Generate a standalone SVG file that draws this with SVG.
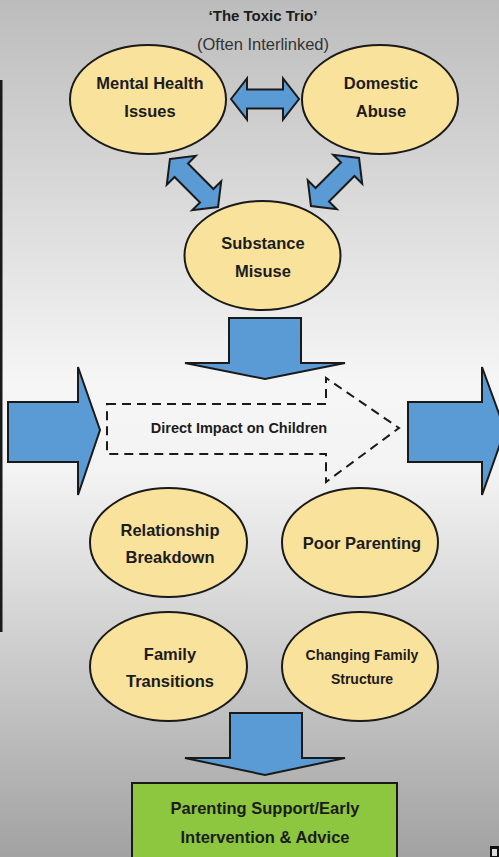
<svg xmlns="http://www.w3.org/2000/svg" width="499" height="857" viewBox="0 0 499 857">
<defs>
<linearGradient id="bg" x1="0" y1="0" x2="0" y2="1">
<stop offset="0" stop-color="#bcbcbc"/>
<stop offset="0.45" stop-color="#f6f6f6"/>
<stop offset="0.55" stop-color="#f3f3f3"/>
<stop offset="1" stop-color="#a2a2a2"/>
</linearGradient>
<path id="dbl" d="M-34 0 L-18 -20.5 L-18 -9.5 L18 -9.5 L18 -20.5 L34 0 L18 20.5 L18 9.5 L-18 9.5 L-18 20.5 Z"/>
</defs>
<style>
.node ellipse{fill:#f9e29c;stroke:#1a1a1a;stroke-width:2}
.arrow{fill:#5b9bd5;stroke:#1a1a1a;stroke-width:2;stroke-linejoin:miter}
text{font-family:"Liberation Sans",Arial,sans-serif;font-weight:bold;fill:#1c1c1c;text-anchor:middle}
.t{font-size:16.5px}
.s{font-size:14px}
.dash{fill:none;stroke:#1a1a1a;stroke-width:2;stroke-dasharray:9 6}
</style>
<rect x="0" y="0" width="499" height="857" fill="url(#bg)"/>
<rect x="0" y="80" width="2.5" height="552" fill="#1a1a1a"/>

<g id="title">
<text x="263" y="21" style="font-size:15px">‘The Toxic Trio’</text>
<text x="263" y="50" style="font-size:16.5px;font-weight:normal;fill:#333">(Often Interlinked)</text>
</g>

<g id="connectors">
<use href="#dbl" class="arrow" transform="translate(265,99)"/>
<use href="#dbl" class="arrow" transform="translate(194,183) rotate(45)"/>
<use href="#dbl" class="arrow" transform="translate(335,182) rotate(-45)"/>
<path class="arrow" d="M229 318 L301 318 L301 363 L345 363 L265 379 L185 363 L229 363 Z"/>
<path class="arrow" d="M8 402 L78 402 L78 367 L100 430 L78 495 L78 462 L8 462 Z"/>
<path class="arrow" d="M408 402 L482 402 L482 367 L505 430 L482 495 L482 462 L408 462 Z"/>
<path class="arrow" d="M230 713 L302 713 L302 758 L345 758 L265 775 L185 758 L230 758 Z"/>
</g>

<g id="mental-health" class="node">
<ellipse cx="148" cy="99.5" rx="78" ry="54.5"/>
<text class="t" x="150" y="89">Mental Health</text>
<text class="t" x="150" y="117">Issues</text>
</g>
<g id="domestic-abuse" class="node">
<ellipse cx="380" cy="99.5" rx="78" ry="54.5"/>
<text class="t" x="381" y="89">Domestic</text>
<text class="t" x="381" y="117">Abuse</text>
</g>
<g id="substance-misuse" class="node">
<ellipse cx="262.5" cy="255.5" rx="78" ry="54.5"/>
<text class="t" x="263" y="249">Substance</text>
<text class="t" x="263" y="277">Misuse</text>
</g>

<g id="direct-impact">
<path class="dash" d="M107 404 L326 404 L326 378 L399 428 L326 482 L326 454 L107 454 Z"/>
<text x="239" y="433" style="font-size:14.5px">Direct Impact on Children</text>
</g>

<g id="relationship-breakdown" class="node">
<ellipse cx="168.5" cy="542.5" rx="78.5" ry="54.5"/>
<text class="t" x="170" y="536">Relationship</text>
<text class="t" x="170" y="563">Breakdown</text>
</g>
<g id="poor-parenting" class="node">
<ellipse cx="360" cy="542.5" rx="78" ry="54.5"/>
<text class="t" x="362" y="549">Poor Parenting</text>
</g>
<g id="family-transitions" class="node">
<ellipse cx="168.5" cy="666.5" rx="78.5" ry="54.5"/>
<text class="t" x="170" y="660">Family</text>
<text class="t" x="170" y="687">Transitions</text>
</g>
<g id="changing-family" class="node">
<ellipse cx="360" cy="666.5" rx="78" ry="54.5"/>
<text class="s" x="362" y="660">Changing Family</text>
<text class="s" x="362" y="684">Structure</text>
</g>

<g id="parenting-support">
<rect x="132" y="783" width="265" height="80" fill="#8dc63f" stroke="#1a1a1a" stroke-width="2"/>
<text class="t" x="265" y="814">Parenting Support/Early</text>
<text class="t" x="265" y="843">Intervention &amp; Advice</text>
</g>

<rect x="490" y="846" width="9" height="11" fill="#111"/>
<rect x="492" y="849" width="5" height="7" fill="#ddd"/>
</svg>
